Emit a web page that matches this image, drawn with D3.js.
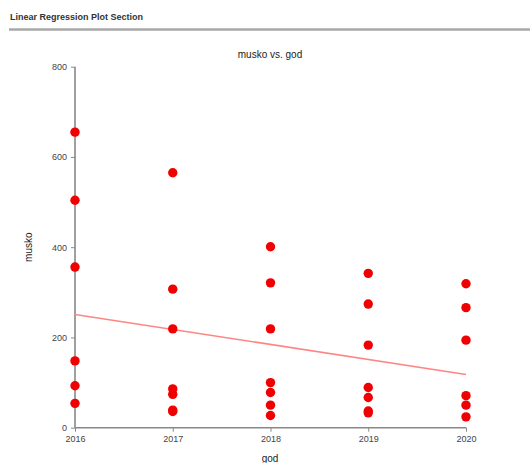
<!DOCTYPE html>
<html>
<head>
<meta charset="utf-8">
<script src="https://cdn.jsdelivr.net/npm/d3@7"></script>
<style>
  body { margin: 0; background: #fff; }
  svg { display: block; }
</style>
</head>
<body>
<svg id="chart" width="530" height="463"></svg>
<script>
// ---- data ----
const years = [2016, 2017, 2018, 2019, 2020];
const musko2016 = [655, 504, 356, 148, 93, 54];
const musko2017 = [565, 307, 219, 86, 74, 39, 36];
const musko2018 = [401, 321, 219, 100, 78, 50, 27];
const musko2019 = [342, 274, 183, 89, 67, 37, 33];
const musko2020 = [319, 266, 194, 71, 50, 24];
const yTicks = [0, 200, 400, 600, 800];
const fitYears = [2016, 2020];
const fitValues = [251, 118];
const headerText = "Linear Regression Plot Section";
const titleText = "musko vs. god";
const xLabel = "god";
const yLabel = "musko";

const groups = [musko2016, musko2017, musko2018, musko2019, musko2020];
const points = [];
groups.forEach((g, i) => g.forEach(v => points.push({ x: years[i], y: v })));

const svg = d3.select("#chart");
const font = "Arial, 'Liberation Sans', sans-serif";

// header
svg.append("text").attr("x", 10).attr("y", 20)
  .attr("font-family", font).attr("font-size", 9).attr("font-weight", "bold")
  .attr("fill", "#333").text(headerText);
svg.append("line").attr("x1", 9).attr("x2", 530).attr("y1", 29.5).attr("y2", 29.5)
  .attr("stroke", "#a8a8a8").attr("stroke-width", 2.5);

const x = d3.scaleLinear().domain([2016, 2020]).range([75, 466]);
const y = d3.scaleLinear().domain([0, 800]).range([427.7, 66.7]);

// title
svg.append("text").attr("x", 270).attr("y", 58).attr("text-anchor", "middle")
  .attr("font-family", font).attr("font-size", 10).attr("fill", "#222").text(titleText);

// axes
const yAxis = d3.axisLeft(y).tickValues(yTicks).tickSize(4).tickPadding(4).tickFormat(d3.format("d"));
const xAxis = d3.axisBottom(x).tickValues(years).tickSize(4).tickPadding(4).tickFormat(d3.format("d"));

const gy = svg.append("g").attr("transform", `translate(${x(2016)},0)`).call(yAxis);
const gx = svg.append("g").attr("transform", `translate(0,${y(0)})`).call(xAxis);
[gx, gy].forEach(g => {
  g.select(".domain").attr("stroke", "#888").attr("stroke-width", 1.6);
  g.selectAll(".tick line").attr("stroke", "#888").attr("stroke-width", 1);
  g.selectAll(".tick text").attr("font-family", font).attr("font-size", 9).attr("fill", "#444");
});
gy.select(".domain").attr("d", `M-0,${y(800)}V${y(0)}`);
gx.select(".domain").attr("d", `M${x(2016)},0H${x(2020)}`);

// axis labels
svg.append("text").attr("x", 270).attr("y", 462).attr("text-anchor", "middle")
  .attr("font-family", font).attr("font-size", 10).attr("fill", "#222").text(xLabel);
svg.append("text").attr("transform", `translate(32,${(y(0) + y(800)) / 2}) rotate(-90)`)
  .attr("text-anchor", "middle")
  .attr("font-family", font).attr("font-size", 10).attr("fill", "#222").text(yLabel);

// regression line
svg.append("line")
  .attr("x1", x(fitYears[0])).attr("y1", y(fitValues[0]))
  .attr("x2", x(fitYears[1])).attr("y2", y(fitValues[1]))
  .attr("stroke", "#ff8585").attr("stroke-width", 1.6);

// points
svg.append("g").selectAll("circle").data(points).join("circle")
  .attr("cx", d => x(d.x)).attr("cy", d => y(d.y)).attr("r", 4.7)
  .attr("fill", "#f00000");
</script>
</body>
</html>
